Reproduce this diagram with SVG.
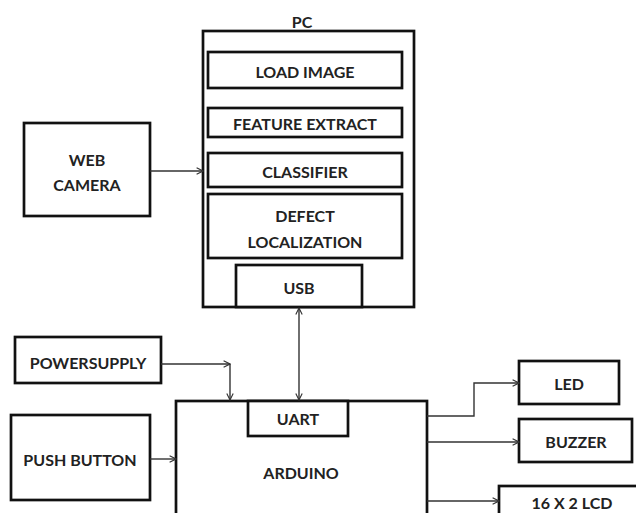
<svg xmlns="http://www.w3.org/2000/svg" width="636" height="513" viewBox="0 0 636 513">
<defs>
<marker id="ah" viewBox="0 0 10 10" refX="9" refY="5" markerWidth="8" markerHeight="8" markerUnits="userSpaceOnUse" orient="auto-start-reverse">
<path d="M1,1 L9,5 L1,9" fill="none" stroke="#333" stroke-width="1.4"/>
</marker>
</defs>
<style>
rect{fill:#fff;stroke:#111;stroke-width:2.7}
text{font-family:Lato,"Open Sans","Liberation Sans",sans-serif;font-weight:bold;font-size:16px;fill:#222;text-anchor:middle;dominant-baseline:central}
.c{fill:none;stroke:#333;stroke-width:1.4;marker-end:url(#ah)}
</style>
<rect x="0" y="0" width="636" height="513" style="fill:#fff;stroke:none"/>
<g id="pc">
<rect x="203" y="31" width="211" height="276"/>
<text x="302" y="21">PC</text>
</g>
<g id="load-image"><rect x="208" y="52" width="194" height="36"/><text x="305" y="71">LOAD IMAGE</text></g>
<g id="feature-extract"><rect x="208" y="108" width="194" height="29"/><text x="305" y="123">FEATURE EXTRACT</text></g>
<g id="classifier"><rect x="208" y="153" width="194" height="34"/><text x="305" y="171">CLASSIFIER</text></g>
<g id="defect"><rect x="208" y="194" width="194" height="64"/><text x="305" y="215">DEFECT</text><text x="305" y="241">LOCALIZATION</text></g>
<g id="usb"><rect x="236" y="265" width="126" height="42"/><text x="299" y="287">USB</text></g>
<g id="web-camera"><rect x="24" y="123" width="126" height="93"/><text x="87" y="159">WEB</text><text x="87" y="184">CAMERA</text></g>
<g id="powersupply"><rect x="15" y="337" width="146" height="46"/><text x="88" y="362">POWERSUPPLY</text></g>
<g id="push-button"><rect x="11" y="415" width="139" height="85"/><text x="80" y="459">PUSH BUTTON</text></g>
<g id="arduino"><rect x="176" y="401" width="251" height="130"/><text x="301" y="472">ARDUINO</text></g>
<g id="uart"><rect x="248" y="401" width="100" height="35"/><text x="298" y="418">UART</text></g>
<g id="led"><rect x="519" y="361" width="100" height="43"/><text x="569" y="383">LED</text></g>
<g id="buzzer"><rect x="519" y="419" width="113" height="43"/><text x="576" y="441">BUZZER</text></g>
<g id="lcd"><rect x="499" y="486" width="150" height="40"/><text x="572" y="502">16 X 2 LCD</text></g>
<g id="connectors">
<path class="c" d="M150,171 H203"/>
<path class="c" d="M161,364 H230"/>
<path class="c" d="M230,364 V400"/>
<path class="c" d="M150,459 H176"/>
<path class="c" d="M299,308 V400" style="marker-start:url(#ah)"/>
<path class="c" d="M427,416 H474 V383 H519"/>
<path class="c" d="M427,442 H519"/>
<path class="c" d="M427,501 H499"/>
</g>
</svg>
